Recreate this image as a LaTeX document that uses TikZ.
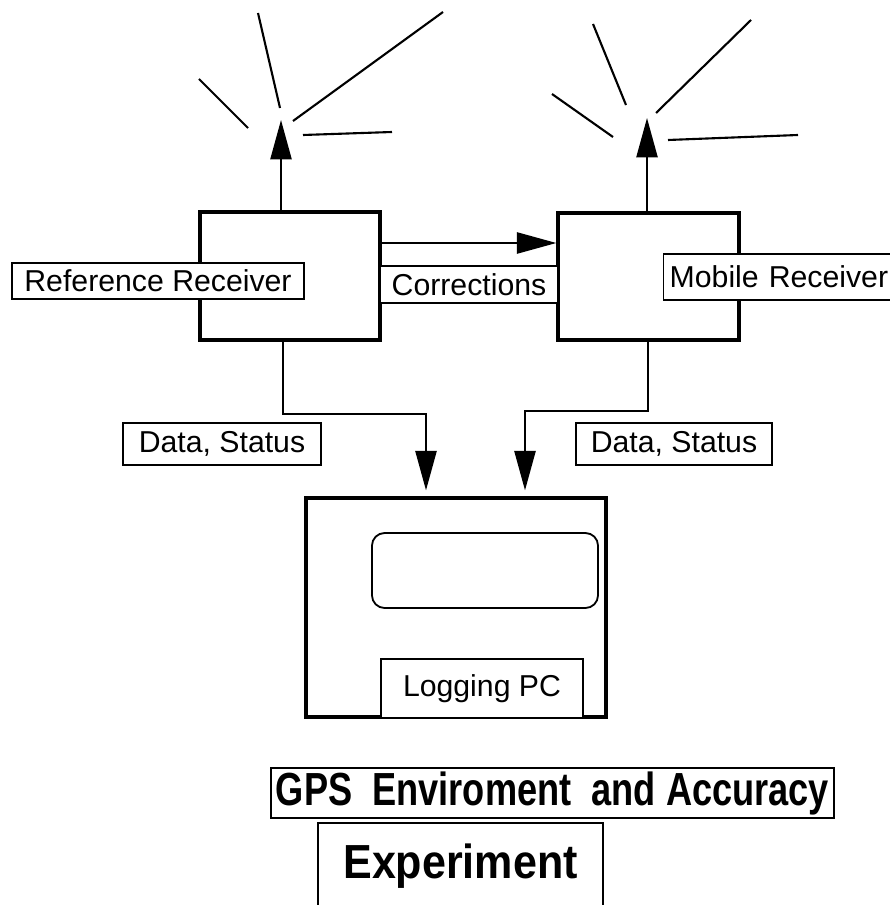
\documentclass[tikz,border=0pt]{standalone}
\usepackage{fontspec}
\usepackage{graphicx}
\setmainfont{Liberation Sans}
\usetikzlibrary{calc,arrows.meta}

\tikzset{
  rcvr/.style={draw, line width=2.3pt, minimum width=4.5cm, minimum height=3.2cm},
  lbl/.style={draw, fill=white, line width=1pt, inner sep=0pt,
    font=\fontsize{21.5}{25}\selectfont},
  arr/.style={line width=1.5pt, -{Triangle[length=28pt,width=15pt]}},
  ray/.style={line width=1.5pt},
  ttl/.style={draw, line width=1.3pt, inner sep=0pt}
}

\begin{document}
\begin{tikzpicture}[x=0.025cm,y=-0.025cm]
\useasboundingbox (0,0) rectangle (889,905);

% receivers
\node[rcvr] (refbox) at (290,276) {};
\node[rcvr, minimum width=4.525cm, minimum height=3.175cm] (mobbox) at (648.5,276.5) {};

% antennas
\coordinate (refant) at (281,120);
\coordinate (mobant) at (647,118);
\draw[arr] (refant |- refbox.north) -- (refant);
\draw[arr] (mobant |- mobbox.north) -- (mobant);
\foreach \a/\b in {{(258,13)}/{(280,108)}, {(199,79)}/{(248,128)},
                   {(293,121)}/{(443,12)}, {(303,135)}/{(392,132)},
                   {(593,24)}/{(626,105)}, {(552,94)}/{(613,137)},
                   {(656,113)}/{(751,20)}, {(668,140)}/{(798,135)}}
  \draw[ray] \a -- \b;

% corrections link
\draw[arr] ($(refbox.east)+(0,-33)$) -- ($(mobbox.west)+(0,-33.5)$);
\node[lbl, minimum width=4.45cm, minimum height=0.925cm] (corr) at (469,284.5) {Corrections};

\node[lbl, minimum width=7.3cm, minimum height=0.9cm] (reflbl) at (158,281) {Reference Receiver};
\node[lbl, anchor=west, inner xsep=0.15cm, text width=5.7cm, align=left,
      minimum height=1.15cm] (moblbl) at (663,277) {Mobile Receiver};

% logging pc
\node[draw, line width=2.3pt, minimum width=7.5cm, minimum height=5.475cm] (pc) at (456,607.5) {};
\node[draw, rounded corners=9pt, line width=1.3pt, minimum width=5.65cm,
      minimum height=1.875cm] (screen) at (485,570.5) {};
\node[lbl, anchor=south, minimum width=5.05cm, minimum height=1.475cm] (pclbl)
      at ($(pc.south)+(26,0)$) {Logging PC};

% data lines
\draw[arr] ($(refbox.south)+(-7,0)$) |- ($(pc.north)+(-30,-82)$) -- ($(pc.north)+(-30,-6)$);
\draw[arr] ($(mobbox.south)+(-0.5,0)$) |- ($(pc.north)+(69,-85)$) -- ($(pc.north)+(69,-6)$);
\node[lbl, minimum width=4.95cm, minimum height=1.05cm] (refdata) at (222,444) {Data, Status};
\node[lbl, minimum width=4.9cm, minimum height=1.05cm] (mobdata) at (674,444) {Data, Status};

% title
\node[ttl, minimum width=14.075cm, minimum height=1.25cm,
      font=\fontsize{33}{38}\selectfont\bfseries] (title) at (552.5,793)
      {\scalebox{0.78}[1]{GPS\ \ Enviroment\ \ and Accuracy}};
\node[ttl, anchor=north, minimum width=7.125cm, text height=1.4cm, text depth=1.55cm,
      font=\fontsize{34}{39}\selectfont\bfseries] (expbox) at (460.5,822)
      {\scalebox{0.9}[1]{Experiment}};

\end{tikzpicture}
\end{document}
